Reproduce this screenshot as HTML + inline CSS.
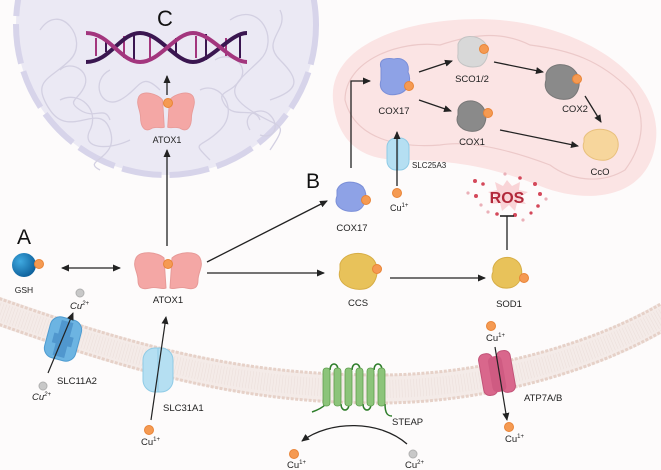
<!DOCTYPE html>
<html><head><meta charset="utf-8"><style>
html,body{margin:0;padding:0;background:#fdfbfb;}
svg{display:block;font-family:"Liberation Sans",sans-serif;}
</style></head><body>
<svg width="661" height="470" viewBox="0 0 661 470" xmlns="http://www.w3.org/2000/svg">
<defs>
<marker id="ah" markerWidth="8" markerHeight="8" refX="7" refY="4" orient="auto" markerUnits="userSpaceOnUse">
<path d="M0,0.5 L8,4 L0,7.5 Z" fill="#222"/></marker>
<marker id="ahs" markerWidth="8" markerHeight="8" refX="1" refY="4" orient="auto" markerUnits="userSpaceOnUse">
<path d="M8,0.5 L0,4 L8,7.5 Z" fill="#222"/></marker>
<radialGradient id="gb" cx="0.35" cy="0.35" r="0.7"><stop offset="0" stop-color="#3fa9e0"/><stop offset="1" stop-color="#0d5f9a"/></radialGradient>
</defs>
<rect width="661" height="470" fill="#fdfbfb"/>

<!-- membrane -->
<path d="M-5,310 C150,365 250,389 380,389 C480,389 590,360 666,315" fill="none" stroke="#f4ebe8" stroke-width="28"/>
<path d="M-5,297 C150,352 250,375 380,375 C480,375 590,346 666,301" fill="none" stroke="#e6d1c8" stroke-width="3" stroke-dasharray="3 1.5"/>
<path d="M-5,323 C150,378 250,403 380,403 C480,403 590,374 666,329" fill="none" stroke="#e6d1c8" stroke-width="3" stroke-dasharray="3 1.5"/>
<path d="M-5,310 C150,365 250,389 380,389 C480,389 590,360 666,315" fill="none" stroke="#ece0dc" stroke-width="18" stroke-dasharray="0.6 2.4"/>

<!-- nucleus -->
<circle cx="166" cy="25" r="150" fill="#ebe9f4" stroke="#d7d4ea" stroke-width="6" stroke-dasharray="40 8"/>
<g fill="none" stroke="#d3d0e2" stroke-width="1.3">
<path d="M40,30 c20,-30 50,10 30,30 s-40,20 -20,50 s50,-10 60,20 s-30,30 -10,40"/>
<path d="M230,20 c30,-20 50,20 30,40 s-40,30 -10,50 s40,10 20,40"/>
<path d="M280,10 c10,20 -20,30 0,50 s20,30 -10,40"/>
<path d="M60,100 c20,-10 40,10 30,30 s20,20 40,10"/>
<path d="M200,90 c20,-10 40,20 20,40 s-30,10 -10,30"/>
<path d="M110,70 c-20,10 -10,40 10,30 s20,-30 40,-10"/>
<path d="M60,70 c10,-10 30,0 25,15 s-20,15 -5,25 s25,-5 30,10"/>
<path d="M215,60 c15,-10 35,5 25,20 s-25,10 -15,25 s30,0 35,15"/>
<path d="M250,130 c-10,-15 10,-25 20,-15 s5,25 -10,20"/>
</g>
<text x="165" y="26" font-size="22" text-anchor="middle" fill="#111">C</text>
<!-- DNA -->
<g fill="none" stroke-width="4">
<g stroke-width="2">
<line x1="96" y1="38" x2="96" y2="56" stroke="#a3367e"/><line x1="106" y1="42" x2="106" y2="52" stroke="#3a1650"/>
<line x1="124" y1="36" x2="124" y2="58" stroke="#a3367e"/><line x1="134" y1="34" x2="134" y2="60" stroke="#3a1650"/>
<line x1="150" y1="36" x2="150" y2="58" stroke="#a3367e"/><line x1="176" y1="38" x2="176" y2="56" stroke="#3a1650"/>
<line x1="196" y1="36" x2="196" y2="58" stroke="#a3367e"/><line x1="206" y1="34" x2="206" y2="60" stroke="#3a1650"/>
<line x1="226" y1="38" x2="226" y2="56" stroke="#a3367e"/><line x1="240" y1="36" x2="240" y2="58" stroke="#3a1650"/>
</g>
<path d="M86,62 C110,62 120,33 140,33 S175,62 193,62 S230,33 247,33" stroke="#3a1650"/>
<path d="M86,33 C110,33 120,62 140,62 S175,33 193,33 S230,62 247,62" stroke="#a3367e"/>
</g>

<!-- nuclear ATOX1 -->
<g transform="translate(166,112) scale(0.85)">
<path d="M-4,-14 C-10,-22 -28,-26 -32,-18 C-36,-10 -30,-2 -30,6 C-30,16 -26,24 -18,20 C-12,16 -6,20 -2,18 Z" fill="#f4a7a5" stroke="#e79a98"/>
<path d="M4,-14 C10,-22 28,-26 32,-18 C36,-10 30,-2 30,6 C30,16 26,24 18,20 C12,16 6,20 2,18 Z" fill="#f4a7a5" stroke="#e79a98"/>
</g>
<circle cx="168" cy="103" r="4.5" fill="#f59a52" stroke="#e98437"/>
<text x="167" y="143" font-size="9" text-anchor="middle" fill="#222">ATOX1</text>
<line x1="167" y1="95" x2="167" y2="76" stroke="#222" stroke-width="1.3" marker-end="url(#ah)"/>
<line x1="167" y1="246" x2="167" y2="150" stroke="#222" stroke-width="1.3" marker-end="url(#ah)"/>

<!-- mitochondrion -->
<path d="M333,100 C328,40 420,14 500,20 C590,28 662,80 656,140 C650,198 590,206 540,186 C490,166 450,160 400,160 C350,160 336,130 333,100 Z" fill="#fbe4e4"/>
<path d="M345,100 C345,60 400,40 440,45 C470,35 500,30 530,45 C570,50 600,60 630,90 C650,120 640,150 625,170 C600,185 570,180 550,165 C510,150 470,140 440,145 C400,148 355,140 345,100 Z" fill="none" stroke="#ecc9c9" stroke-width="1.2"/>

<!-- mito proteins -->
<g>
<path d="M381,68 C378,58 388,58 394,59 C402,57 410,62 408,72 C412,80 408,92 398,94 C386,97 378,90 381,80 Z" fill="#8ea2e6" stroke="#7b8fd8"/>
<circle cx="409" cy="86" r="4.5" fill="#f59a52" stroke="#e98437"/>
<text x="394" y="114" font-size="9.5" text-anchor="middle" fill="#222">COX17</text>
<path d="M458,44 C462,34 476,35 483,41 C491,48 488,62 480,66 C468,69 456,64 458,54 Z" fill="#d8d8d8" stroke="#c4c4c4"/>
<circle cx="484" cy="49" r="4.5" fill="#f59a52" stroke="#e98437"/>
<text x="472" y="82" font-size="9.5" text-anchor="middle" fill="#222">SCO1/2</text>
<path d="M546,74 C550,62 568,62 575,71 C583,80 579,97 568,99 C554,101 542,92 546,80 Z" fill="#8a8a8a" stroke="#777"/>
<circle cx="577" cy="79" r="4.5" fill="#f59a52" stroke="#e98437"/>
<text x="575" y="112" font-size="9.5" text-anchor="middle" fill="#222">COX2</text>
<path d="M458,110 C460,100 474,98 481,105 C489,112 487,129 476,131 C463,133 454,124 458,115 Z" fill="#8a8a8a" stroke="#777"/>
<circle cx="488" cy="113" r="4.5" fill="#f59a52" stroke="#e98437"/>
<text x="472" y="145" font-size="9.5" text-anchor="middle" fill="#222">COX1</text>
<path d="M584,138 C588,128 606,126 615,135 C622,144 617,158 606,160 C592,162 580,152 584,142 Z" fill="#f7d69c" stroke="#e8c07d"/>
<text x="600" y="175" font-size="9.5" text-anchor="middle" fill="#222">CcO</text>
</g>
<g stroke="#222" stroke-width="1.3" fill="none">
<line x1="419" y1="72" x2="452" y2="61" marker-end="url(#ah)"/>
<line x1="494" y1="62" x2="543" y2="72" marker-end="url(#ah)"/>
<line x1="419" y1="100" x2="451" y2="111" marker-end="url(#ah)"/>
<line x1="500" y1="130" x2="578" y2="146" marker-end="url(#ah)"/>
<line x1="585" y1="96" x2="601" y2="122" marker-end="url(#ah)"/>
<polyline points="351,168 351,81 370,81" marker-end="url(#ah)"/>
</g>
<!-- SLC25A3 -->
<rect x="387" y="138" width="22" height="32" rx="9" fill="#b5dff2" stroke="#8fcbe6"/>
<line x1="398" y1="138" x2="398" y2="170" stroke="#8fcbe6"/>
<line x1="397" y1="186" x2="397" y2="132" stroke="#222" stroke-width="1.3" marker-end="url(#ah)"/>
<text x="412" y="168" font-size="8" fill="#222">SLC25A3</text>
<circle cx="397" cy="193" r="4.5" fill="#f59a52" stroke="#e98437"/>
<text x="390" y="211" font-size="9" fill="#222">Cu<tspan font-size="6" dy="-4">1+</tspan></text>

<!-- B -->
<text x="306" y="188" font-size="21" fill="#111">B</text>
<line x1="207" y1="262" x2="327" y2="201" stroke="#222" stroke-width="1.3" marker-end="url(#ah)"/>
<path d="M337,190 C341,180 356,180 363,187 C369,196 365,209 356,211 C343,213 333,206 337,196 Z" fill="#8ea2e6" stroke="#7b8fd8"/>
<circle cx="366" cy="200" r="4.5" fill="#f59a52" stroke="#e98437"/>
<text x="352" y="231" font-size="9.5" text-anchor="middle" fill="#222">COX17</text>

<!-- ROS -->
<g fill="#d4485a">
<circle cx="475" cy="181" r="2"/><circle cx="483" cy="184" r="1.8"/><circle cx="476" cy="196" r="2"/><circle cx="481" cy="205" r="1.6" fill="#eab0b8"/>
<circle cx="535" cy="184" r="2"/><circle cx="540" cy="194" r="2"/><circle cx="538" cy="206" r="1.8"/><circle cx="531" cy="213" r="1.6"/>
<circle cx="497" cy="214" r="1.8"/><circle cx="515" cy="215" r="2"/><circle cx="523" cy="220" r="1.6" fill="#eab0b8"/><circle cx="488" cy="212" r="1.6" fill="#eab0b8"/>
<circle cx="505" cy="174" r="1.6" fill="#eab0b8"/><circle cx="520" cy="178" r="1.8"/><circle cx="468" cy="193" r="1.6" fill="#eab0b8"/><circle cx="546" cy="199" r="1.6" fill="#eab0b8"/>
</g>
<path d="M507,180 L512,186 L520,182 L519,190 L528,192 L520,197 L526,204 L517,203 L515,211 L509,205 L502,211 L500,203 L491,204 L496,197 L488,192 L497,190 L495,182 L503,186 Z" fill="#f9d4d7"/>
<text x="507" y="203" font-size="16" font-weight="bold" text-anchor="middle" fill="#b2283a">ROS</text>
<line x1="507" y1="250" x2="507" y2="216" stroke="#222" stroke-width="1.3"/>
<line x1="500" y1="216" x2="514" y2="216" stroke="#222" stroke-width="1.6"/>

<!-- A / GSH -->
<text x="17" y="244" font-size="21" fill="#111">A</text>
<circle cx="24" cy="265" r="12" fill="url(#gb)"/>
<circle cx="39" cy="264" r="4.5" fill="#f59a52" stroke="#e98437"/>
<text x="24" y="293" font-size="8.5" text-anchor="middle" fill="#222">GSH</text>
<line x1="62" y1="268" x2="120" y2="268" stroke="#222" stroke-width="1.3" marker-start="url(#ahs)" marker-end="url(#ah)"/>

<!-- ATOX1 cytosol -->
<g transform="translate(168,272)">
<path d="M-4,-14 C-10,-20 -28,-22 -32,-14 C-36,-6 -30,0 -30,8 C-30,16 -26,18 -18,16 C-12,14 -6,18 -2,16 Z" fill="#f4a7a5" stroke="#e79a98"/>
<path d="M4,-14 C10,-20 28,-22 32,-14 C36,-6 30,0 30,8 C30,16 26,18 18,16 C12,14 6,18 2,16 Z" fill="#f4a7a5" stroke="#e79a98"/>
</g>
<circle cx="168" cy="264" r="4.5" fill="#f59a52" stroke="#e98437"/>
<text x="168" y="303" font-size="9.5" text-anchor="middle" fill="#222">ATOX1</text>
<line x1="207" y1="273" x2="324" y2="273" stroke="#222" stroke-width="1.3" marker-end="url(#ah)"/>

<!-- CCS -->
<path d="M340,264 C344,252 364,250 373,259 C381,268 377,287 364,289 C349,291 336,282 340,270 Z" fill="#e8c25a" stroke="#d7ad45"/>
<circle cx="377" cy="269" r="4.5" fill="#f59a52" stroke="#e98437"/>
<text x="358" y="306" font-size="9.5" text-anchor="middle" fill="#222">CCS</text>
<line x1="390" y1="278" x2="485" y2="278" stroke="#222" stroke-width="1.3" marker-end="url(#ah)"/>

<!-- SOD1 -->
<path d="M493,268 C496,256 512,254 519,263 C525,272 521,287 508,288 C497,289 489,280 493,272 Z" fill="#e8c25a" stroke="#d7ad45"/>
<circle cx="524" cy="278" r="4.5" fill="#f59a52" stroke="#e98437"/>
<text x="509" y="307" font-size="9.5" text-anchor="middle" fill="#222">SOD1</text>

<!-- SLC11A2 -->
<g transform="rotate(15 63 339)">
<rect x="47" y="318" width="32" height="42" rx="10" fill="#6cb4e2" stroke="#4e9bd0"/>
<path d="M57,321 h12 v14 h4 v10 h-4 v12 h-12 v-12 h-4 v-10 h4 z" fill="#4a90c9" opacity="0.8"/>
</g>
<line x1="48" y1="373" x2="73" y2="313" stroke="#222" stroke-width="1.2" marker-end="url(#ah)"/>
<circle cx="80" cy="293" r="4" fill="#c8c8c8" stroke="#b0b0b0"/>
<text x="70" y="309" font-size="9.5" fill="#222" font-style="italic">Cu<tspan font-size="6" dy="-4">2+</tspan></text>
<text x="57" y="384" font-size="9.5" fill="#222">SLC11A2</text>
<circle cx="43" cy="386" r="4" fill="#c8c8c8" stroke="#b0b0b0"/>
<text x="32" y="400" font-size="9.5" fill="#222" font-style="italic">Cu<tspan font-size="6" dy="-4">2+</tspan></text>

<!-- SLC31A1 -->
<rect x="143" y="348" width="30" height="44" rx="12" fill="#b5dff2" stroke="#8fcbe6"/>
<line x1="158" y1="348" x2="158" y2="392" stroke="#8fcbe6"/>
<line x1="151" y1="420" x2="166" y2="317" stroke="#222" stroke-width="1.2" marker-end="url(#ah)"/>
<text x="163" y="411" font-size="9.5" fill="#222">SLC31A1</text>
<circle cx="149" cy="430" r="4.5" fill="#f59a52" stroke="#e98437"/>
<text x="141" y="445" font-size="9.5" fill="#222">Cu<tspan font-size="6" dy="-4">1+</tspan></text>

<!-- STEAP -->
<g fill="none" stroke="#2e7d2a" stroke-width="1.5">
<path d="M312,412 C318,410 322,408 326,404 M330,370 C330,362 338,362 338,370 M341,404 C341,412 349,412 349,404 M352,370 C352,362 360,362 360,370 M363,404 C363,412 371,412 371,404 M374,370 C374,362 382,362 382,370 M385,404 C385,414 388,416 392,416"/>
</g>
<g fill="#8cc47a" stroke="#5e9e4c" stroke-width="0.8">
<rect x="323" y="368" width="7" height="38" rx="3"/><rect x="334" y="368" width="7" height="38" rx="3"/>
<rect x="345" y="368" width="7" height="38" rx="3"/><rect x="356" y="368" width="7" height="38" rx="3"/>
<rect x="367" y="368" width="7" height="38" rx="3"/><rect x="378" y="368" width="7" height="38" rx="3"/>
</g>
<text x="392" y="425" font-size="9.5" fill="#222">STEAP</text>
<path d="M407,444 C380,420 330,420 302,441" fill="none" stroke="#222" stroke-width="1.3" marker-end="url(#ah)"/>
<circle cx="294" cy="454" r="4.5" fill="#f59a52" stroke="#e98437"/>
<text x="287" y="468" font-size="9.5" fill="#222">Cu<tspan font-size="6" dy="-4">1+</tspan></text>
<circle cx="413" cy="454" r="4" fill="#c8c8c8" stroke="#b0b0b0"/>
<text x="405" y="468" font-size="9.5" fill="#222">Cu<tspan font-size="6" dy="-4">2+</tspan></text>

<!-- ATP7A/B -->
<g transform="rotate(-10 497 373)">
<rect x="481" y="352" width="14" height="42" rx="6" fill="#d9678c" stroke="#c25378"/>
<rect x="499" y="352" width="14" height="42" rx="6" fill="#d9678c" stroke="#c25378"/>
<rect x="490" y="356" width="14" height="36" rx="5" fill="#cf5b82"/>
</g>
<circle cx="491" cy="326" r="4.5" fill="#f59a52" stroke="#e98437"/>
<text x="486" y="341" font-size="9.5" fill="#222">Cu<tspan font-size="6" dy="-4">1+</tspan></text>
<line x1="495" y1="347" x2="507" y2="420" stroke="#222" stroke-width="1.2" marker-end="url(#ah)"/>
<text x="524" y="401" font-size="9.5" fill="#222">ATP7A/B</text>
<circle cx="509" cy="427" r="4.5" fill="#f59a52" stroke="#e98437"/>
<text x="505" y="442" font-size="9.5" fill="#222">Cu<tspan font-size="6" dy="-4">1+</tspan></text>
</svg>
</body></html>
